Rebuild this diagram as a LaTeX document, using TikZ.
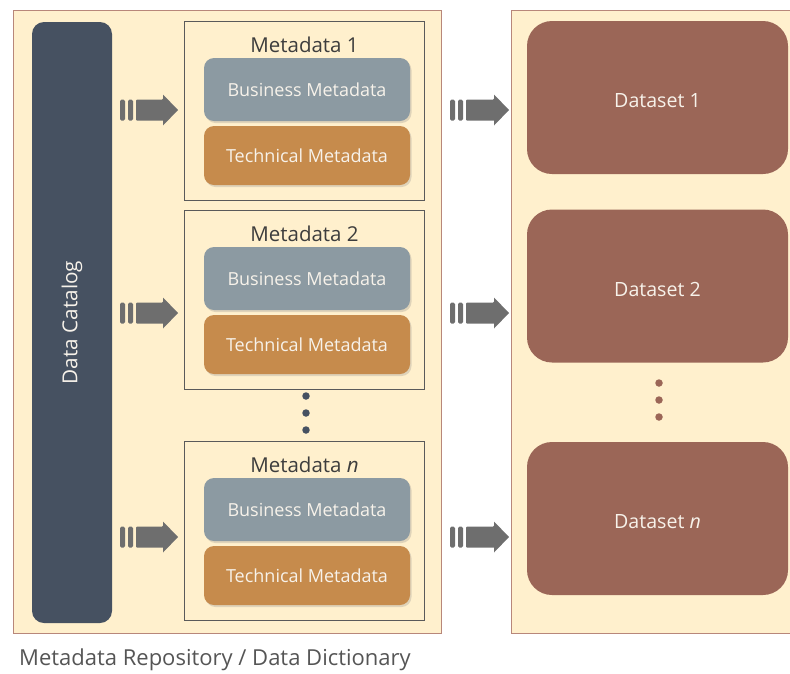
\documentclass[tikz,border=0pt]{standalone}
\usepackage{fontspec}
\setmainfont{Open Sans}
\usetikzlibrary{shadows}
\definecolor{beige}{HTML}{FFF0CD}
\definecolor{panelline}{HTML}{B8877A}
\definecolor{catalog}{HTML}{465161}
\definecolor{business}{HTML}{8C9AA2}
\definecolor{technical}{HTML}{C68B4C}
\definecolor{dataset}{HTML}{9B6657}
\definecolor{arrowgray}{HTML}{6E6E6E}
\definecolor{titlegray}{HTML}{3D3D3D}
\definecolor{captiongray}{HTML}{555555}
\definecolor{softwhite}{HTML}{F7F2EA}
\tikzset{
  panel/.style={draw=panelline, line width=1pt, fill=beige},
  mdbox/.style={draw=titlegray!85, line width=0.9pt, fill=beige, minimum width=240pt, minimum height=179pt, inner sep=0pt},
  mdtitle/.style={text=titlegray, font=\fontsize{20.5}{22}\selectfont, inner sep=0pt},
  inner/.style={rounded corners=10pt, minimum width=206pt, inner sep=0pt, text=softwhite,
     font=\fontsize{18}{20}\selectfont,
     drop shadow={opacity=0.25, shadow xshift=1.5pt, shadow yshift=-2pt}},
  busbox/.style={inner, fill=business, minimum height=63pt},
  techbox/.style={inner, fill=technical, minimum height=59pt},
  databox/.style={rounded corners=25pt, fill=dataset, minimum width=261pt, minimum height=153pt, inner sep=0pt},
  datalabel/.style={text=softwhite, font=\fontsize{19.6}{21}\selectfont, inner sep=0pt},
  barpiece/.style={fill=arrowgray, rounded corners=1.5pt, minimum width=5pt, minimum height=21pt, inner sep=0pt},
  dotnode/.style={circle, inner sep=0pt, minimum size=7.5pt},
}
\newcommand{\blockarrow}[4]{% name, x0 (start of bars), y, tip
  \node[barpiece] (#1b1) at (#2+2.5, #3) {};
  \node[barpiece] (#1b2) at (#2+10.5, #3) {};
  \fill[arrowgray, rounded corners=1pt] (#2+16, #3-10.5) -- (#4-15, #3-10.5) [sharp corners] -- (#4-15, #3-15.5)
     -- (#4, #3) -- (#4-15, #3+15.5) -- (#4-15, #3+10.5) [rounded corners=1pt] -- (#2+16, #3+10.5) -- cycle;
  \coordinate (#1tip) at (#4, #3);
}
\begin{document}
\begin{tikzpicture}[x=1pt, y=-1pt]
\useasboundingbox (0,0) rectangle (790,673);
% panels
\draw[panel] (13,10) rectangle (441,633);
\draw[panel] (511,10) rectangle (800,633);
% data catalog bar
\node[fill=catalog, rounded corners=12pt, minimum width=80pt, minimum height=601pt, inner sep=0pt] (cat) at (72,322.5) {};
\node[rotate=90, text=softwhite, font=\fontsize{20.7}{22}\selectfont] (catlabel) at (cat.center) {Data Catalog};
% metadata boxes
\foreach \n/\top/\lab in {1/21/1, 2/210/2, 3/441/{\itshape n}} {
  \node[mdbox] (md\n) at (304.5, \top+89.5) {};
  \node[mdtitle] (mdt\n) at (304.5, \top+24) {Metadata \lab};
  \node[busbox] (bus\n) at (307, \top+68.5) {Business Metadata};
  \node[techbox] (tech\n) at (307, \top+134.5) {Technical Metadata};
}
% dots
\foreach \i/\yy in {1/396, 2/413, 3/430} \node[dotnode, fill=catalog] (ld\i) at (306,\yy) {};
\foreach \i/\yy in {1/383, 2/400, 3/417} \node[dotnode, fill=dataset] (rd\i) at (659,\yy) {};
% datasets
\node[databox] (ds1) at (657.5, 97.5) {};
\node[databox] (ds2) at (657.5, 286) {};
\node[databox] (ds3) at (657.5, 518.5) {};
\node[datalabel] (dsl1) at (657.5, 100.5) {Dataset 1};
\node[datalabel] (dsl2) at (657.5, 289.5) {Dataset 2};
\node[datalabel] (dsl3) at (657.5, 521.5) {Dataset {\itshape n}};
% arrows
\blockarrow{la1}{120}{110}{178}
\blockarrow{la2}{120}{313}{178}
\blockarrow{la3}{120}{537}{178}
\blockarrow{ra1}{450}{110}{509}
\blockarrow{ra2}{450}{313}{509}
\blockarrow{ra3}{450}{537}{509}
% caption
\node[anchor=west, inner sep=0pt, text=captiongray, font=\fontsize{22}{24}\selectfont] (caption) at (19,660) {Metadata Repository / Data Dictionary};
\end{tikzpicture}
\end{document}
